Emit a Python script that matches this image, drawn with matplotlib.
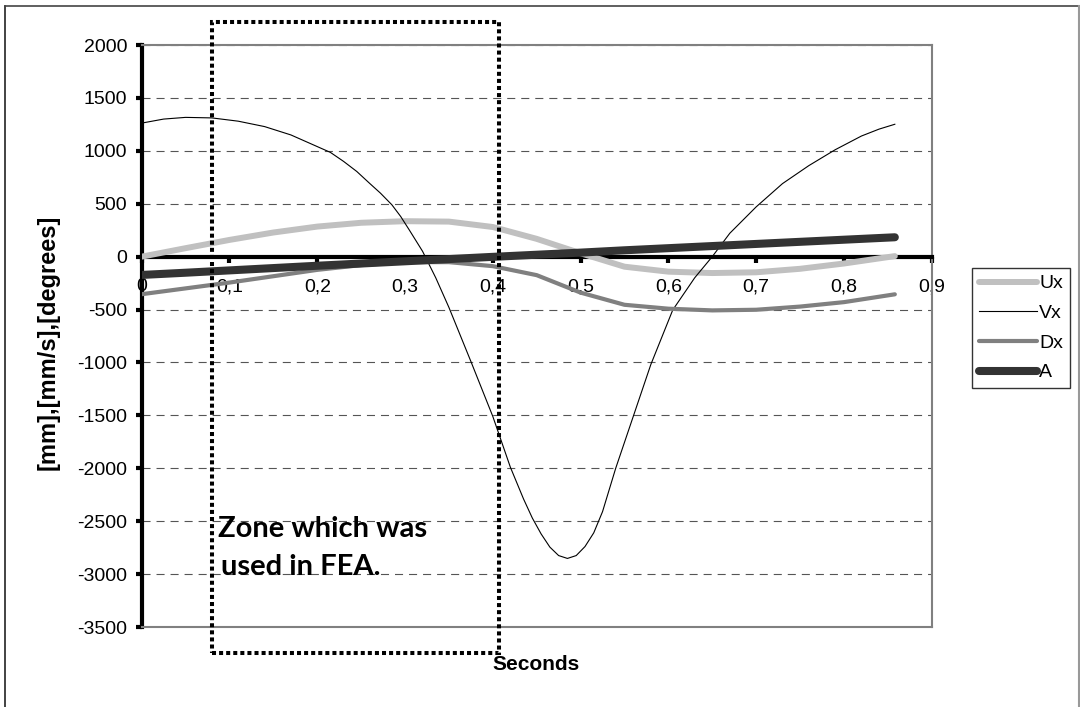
import numpy as np
import matplotlib
matplotlib.use("Agg")
import matplotlib.pyplot as plt
from matplotlib.lines import Line2D
from matplotlib.patches import Rectangle

plt.rcParams["font.family"] = ["Liberation Sans", "DejaVu Sans"]
plt.rcParams["lines.scale_dashes"] = False

# ---- data -------------------------------------------------------------
TIME = [0, 0.05, 0.1, 0.15, 0.2, 0.25, 0.3, 0.35, 0.4, 0.45, 0.5,
        0.55, 0.6, 0.65, 0.7, 0.75, 0.8, 0.858]
UX = [0, 80, 158, 228, 284, 320, 335, 331, 280, 168, 32,
      -95, -142, -155, -148, -115, -65, 5]
DX = [-355, -300, -245, -185, -125, -80, -52, -52, -90, -175, -340,
      -455, -492, -508, -502, -472, -430, -356]
A = [-173, -152, -130, -108, -86, -65, -44, -23, -2, 18, 38,
     60, 80, 100, 120, 140, 160, 183]

TIME_VX = [0, 0.025, 0.05, 0.08, 0.11, 0.14, 0.17, 0.2, 0.215, 0.23, 0.245,
           0.26, 0.272, 0.285, 0.295, 0.305, 0.32, 0.335, 0.35, 0.375, 0.4,
           0.42, 0.435, 0.445, 0.455, 0.465, 0.475, 0.485, 0.495, 0.505,
           0.515, 0.525, 0.54, 0.56, 0.58, 0.605, 0.63, 0.65, 0.67, 0.7,
           0.73, 0.76, 0.79, 0.82, 0.84, 0.858]
VX = [1262, 1300, 1316, 1311, 1280, 1229, 1150, 1040, 985, 900, 805,
      690, 600, 490, 380, 250, 50, -200, -480, -990, -1510,
      -1990, -2290, -2470, -2620, -2745, -2825, -2852, -2825, -2740,
      -2610, -2410, -2000, -1510, -1020, -504, -200, 0, 221, 470,
      690, 860, 1010, 1140, 1205, 1251]

X_TICKS = [0, 0.1, 0.2, 0.3, 0.4, 0.5, 0.6, 0.7, 0.8, 0.9]
X_TICK_LABELS = ["0", "0,1", "0,2", "0,3", "0,4", "0,5", "0,6", "0,7", "0,8", "0,9"]
Y_TICKS = [2000, 1500, 1000, 500, 0, -500, -1000, -1500, -2000,
           -2500, -3000, -3500]
Y_TICK_LABELS = [str(v) for v in Y_TICKS]

ZONE_START, ZONE_END = 0.0797, 0.4073   # seconds
ZONE_TOP, ZONE_BOTTOM = 2218, -3746

# ---- figure -----------------------------------------------------------
W, H = 1080, 707
fig = plt.figure(figsize=(W / 100, H / 100), dpi=100)
fig.patch.set_facecolor("white")

left, right, top, bottom = 141.7, 931.7, 45, 627
ax = fig.add_axes([left / W, 1 - bottom / H, (right - left) / W, (bottom - top) / H])
ax.set_xlim(0, 0.9)
ax.set_ylim(-3500, 2000)

# grid
ax.set_axisbelow(True)
ax.yaxis.grid(True, linestyle=(0, (5.8, 4.3)), color="#555555", linewidth=0.8)
ax.xaxis.grid(False)

# spines
ax.spines["left"].set_color("black")
ax.spines["left"].set_linewidth(3)
ax.spines["bottom"].set_position(("data", 0))
ax.spines["bottom"].set_color("black")
ax.spines["bottom"].set_linewidth(3)
for s in ("top", "right"):
    ax.spines[s].set_color("#808080")
    ax.spines[s].set_linewidth(1.5)
ax.axhline(-3500, color="#808080", linewidth=1.5, zorder=2.6, clip_on=False)

ax.set_xticks(X_TICKS)
ax.set_xticklabels(X_TICK_LABELS)
ax.set_yticks(Y_TICKS)
ax.set_yticklabels(Y_TICK_LABELS)
ax.tick_params(axis="x", direction="out", length=4.5, width=3, pad=11,
               labelsize=14, top=False)
ax.tick_params(axis="y", direction="out", length=4.5, width=3, pad=6,
               labelsize=14, right=False)

# series
l_ux, = ax.plot(TIME, UX, color="#c0c0c0", lw=4.3, solid_capstyle="round",
                solid_joinstyle="round", zorder=3, label="Ux")
l_vx, = ax.plot(TIME_VX, VX, color="black", lw=0.8, zorder=3.1, label="Vx")
l_dx, = ax.plot(TIME, DX, color="#808080", lw=3.0, solid_capstyle="round",
                solid_joinstyle="round", zorder=3.2, label="Dx")
l_a, = ax.plot(TIME, A, color="#333333", lw=5.8, solid_capstyle="round",
               solid_joinstyle="round", zorder=3.3, label="A")

# FEA zone
zone = Rectangle((ZONE_START, ZONE_BOTTOM), ZONE_END - ZONE_START,
                 ZONE_TOP - ZONE_BOTTOM, fill=False, edgecolor="black",
                 linewidth=2.9, linestyle=(0, (2.9, 2.2)), capstyle="butt",
                 zorder=5, clip_on=False)
ax.add_patch(zone)

fig.text(218 / W, 1 - 537 / H, "Zone which was", fontsize=21,
         fontweight="bold", family=["Lato", "DejaVu Sans"], ha="left",
         va="baseline", zorder=6)
fig.text(221 / W, 1 - 575 / H, "used in FEA.", fontsize=21,
         fontweight="bold", family=["Lato", "DejaVu Sans"], ha="left",
         va="baseline", zorder=6)

# axis titles
fig.text(536 / W, 1 - 665 / H, "Seconds", fontsize=15, fontweight="bold",
         ha="center", va="center")
fig.text(48 / W, 1 - 342 / H, "[mm],[mm/s],[degrees]", fontsize=17,
         fontweight="bold", ha="center", va="center", rotation=90)

# legend
leg = fig.legend(handles=[l_ux, l_vx, l_dx, l_a], loc="upper left",
                 bbox_to_anchor=(972 / W, 1 - 268 / H), frameon=True,
                 fancybox=False, edgecolor="black", fontsize=14,
                 handlelength=3.0, handletextpad=0.1, borderpad=0.35,
                 labelspacing=0.62, borderaxespad=0)
leg.get_frame().set_linewidth(1.0)

# outer frame
fig.add_artist(Line2D([5 / W, 5 / W], [0, 1 - 6 / H], color="#222222", lw=1.2))
fig.add_artist(Line2D([5 / W, 1079 / W], [1 - 6 / H, 1 - 6 / H], color="#444444", lw=1.2))
fig.add_artist(Line2D([1079 / W, 1079 / W], [0, 1 - 6 / H], color="#999999", lw=1.5))

fig.savefig("out.png", dpi=100, facecolor="white")
